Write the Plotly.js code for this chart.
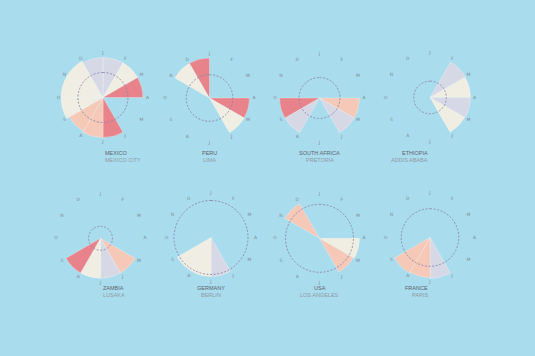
<!DOCTYPE html>
<html><head><meta charset="utf-8">
<script src="https://cdn.plot.ly/plotly-3.0.1.min.js"></script>
<style>html,body{margin:0;padding:0;background:#a9dcec;}#chart{width:535px;height:356px;}</style>
</head><body><div id="chart"></div>
<script>
// Data
const months = ["J","F","M","A","M","J","J","A","S","O","N","D"];
const countries = ["MEXICO","PERU","SOUTH AFRICA","ETHIOPIA","ZAMBIA","GERMANY","USA","FRANCE"];
const cities = ["MEXICO CITY","LIMA","PRETORIA","ADDIS ABABA","LUSAKA","BERLIN","LOS ANGELES","PARIS"];
const mexicoR   = [40,40,40,0,0,40,40,39,42,42,42,40];
const mexicoCat = ["G","C","R","C","C","R","P","P","C","C","C","G"];
const peruR     = [0,0,0,40,40,0,0,0,0,0,40,40];
const peruCat   = ["C","C","C","R","C","C","C","C","C","C","C","R"];
const safricaR  = [0,0,0,40,40,0,0,40,40,0,0,0];
const safricaCat= ["C","C","C","P","G","C","C","G","R","C","C","C"];
const ethiopiaR = [0,41,40.5,40.5,40,0,0,0,0,0,0,0];
const ethiopiaCat=["C","G","C","G","C","C","C","C","C","C","C","C"];
const zambiaR   = [0,0,0,0,40,40,40,40,0,0,0,0];
const zambiaCat = ["C","C","C","C","P","G","C","R","C","C","C","C"];
const germanyR  = [0,0,0,0,0,39,39,39,0,0,0,0];
const germanyCat= ["C","C","C","C","C","G","C","C","C","C","C","C"];
const usaR      = [0,0,0,40,39,0,0,0,0,0,40,0];
const usaCat    = ["C","C","C","C","P","C","C","C","C","C","P","C"];
const franceR   = [0,0,0,0,0,41,40,41,0,0,0,0];
const franceCat = ["C","C","C","C","C","G","P","P","C","C","C","C"];
const averageR  = [25,23.3,20.5,16.3,12,37,34,28.8];

const seriesR = [mexicoR,peruR,safricaR,ethiopiaR,zambiaR,germanyR,usaR,franceR];
const seriesCat = [mexicoCat,peruCat,safricaCat,ethiopiaCat,zambiaCat,germanyCat,usaCat,franceCat];

// Styles / layout
const palette = {R:"#e8838b", P:"#f6c8b7", C:"#f0eee2", G:"#d7d8e6"};
const centers = [[103,97.5],[209.5,98],[319.5,98],[430,97.5],[100.5,238.3],[211,237.5],[319.5,238.3],[430,237.5]];
const W=535, H=356, R=46;

const traces = [];
const layout = {width:W,height:H,margin:{l:0,r:0,t:0,b:0},paper_bgcolor:"#a9dcec",plot_bgcolor:"#a9dcec",showlegend:false,annotations:[]};
const thetaMid = months.map((m,i)=>i*30+15);
const thetaLbl = months.map((m,i)=>i*30);
const circTheta = []; for(let a=0;a<=360;a+=3) circTheta.push(a);

for(let c=0;c<8;c++){
  const key = c===0 ? "polar" : "polar"+(c+1);
  const [cx,cy] = centers[c];
  layout[key] = {
    domain:{x:[(cx-R)/W,(cx+R)/W], y:[1-(cy+R)/H,1-(cy-R)/H]},
    bgcolor:"rgba(0,0,0,0)",
    radialaxis:{range:[0,R],visible:false},
    angularaxis:{rotation:90,direction:"clockwise",visible:false},
    bargap:0
  };
  traces.push({type:"barpolar",subplot:key,r:seriesR[c],theta:thetaMid,width:30,
    marker:{color:seriesCat[c].map(k=>palette[k]),line:{color:"rgba(255,255,255,0.55)",width:0.5}},hoverinfo:"skip"});
  traces.push({type:"scatterpolar",subplot:key,mode:"lines",r:circTheta.map(()=>averageR[c]),theta:circTheta,
    line:{color:"#8d88ad",width:0.9,dash:"2px,1.6px"},hoverinfo:"skip"});
  traces.push({type:"scatterpolar",subplot:key,mode:"text",r:months.map(()=>44.5),theta:thetaLbl,text:months,
    textfont:{family:"DejaVu Sans",size:4.5,color:"#7f8c99"},hoverinfo:"skip"});
  layout.annotations.push({x:cx/W,y:1-(cy+55)/H,xref:"paper",yref:"paper",text:countries[c],showarrow:false,
    font:{family:"Liberation Sans",size:5.5,color:"#5f6470"}});
  layout.annotations.push({x:cx/W,y:1-(cy+62)/H,xref:"paper",yref:"paper",text:cities[c],showarrow:false,
    font:{family:"Liberation Sans",size:5.5,color:"#929aa6"}});
}
Plotly.newPlot("chart",traces,layout,{staticPlot:true,displayModeBar:false});
</script></body></html>
